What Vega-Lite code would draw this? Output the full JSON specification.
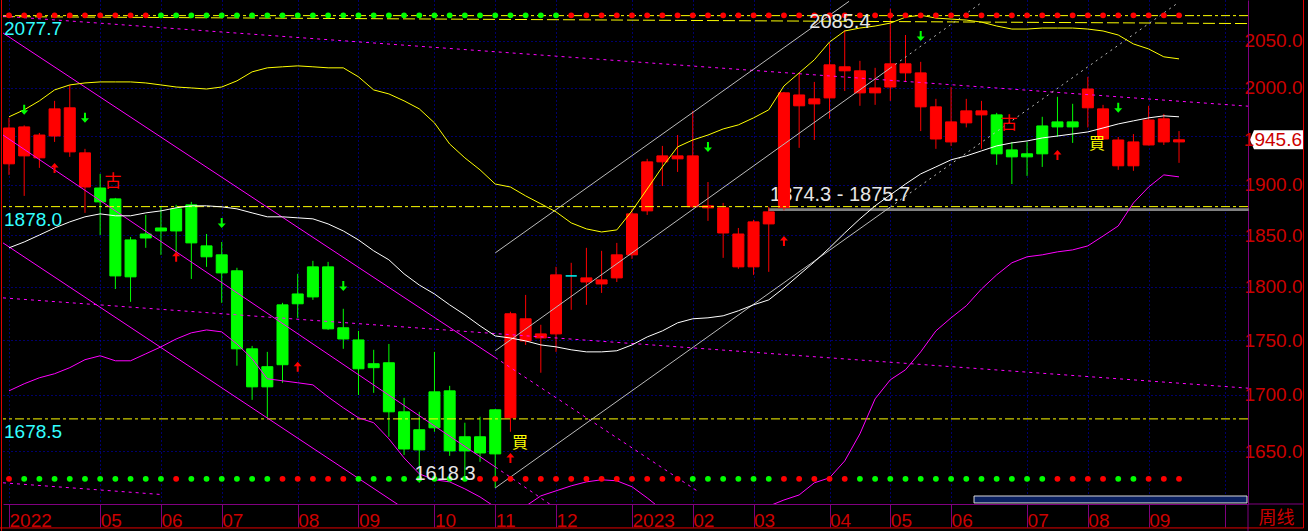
{
"$schema":"https://vega.github.io/schema/vega-lite/v6.json",
"width":1245,"height":504,"autosize":{"type":"none"},
"padding":{"left":3,"top":0,"right":60,"bottom":27},
"background":"#000000",
"config":{"view":{"stroke":null}},
"datasets":{
"candles":[
{"d":"2022-03-25","o":1921.0,"h":1968.3,"l":1909.8,"c":1957.8,"k":"bull","up":1969.4,"mid":1837.5,"lo":1703.6,"t":"bull","b":"bull"},
{"d":"2022-04-01","o":1929.1,"h":1960.5,"l":1888.7,"c":1958.9,"k":"bull","up":1976.7,"mid":1843.2,"lo":1710.0,"t":"bull","b":"bear"},
{"d":"2022-04-08","o":1927.1,"h":1952.6,"l":1916.9,"c":1950.5,"k":"bull","up":1986.1,"mid":1850.0,"lo":1715.4,"t":"bull","b":"bear"},
{"d":"2022-04-15","o":1949.5,"h":1986.1,"l":1943.4,"c":1977.7,"k":"bull","up":1997.6,"mid":1856.9,"lo":1719.1,"t":"bull","b":"bear"},
{"d":"2022-04-22","o":1933.2,"h":2002.9,"l":1928.1,"c":1978.8,"k":"bull","up":2002.9,"mid":1862.9,"lo":1724.6,"t":"bull","b":"bear"},
{"d":"2022-04-29","o":1897.6,"h":1936.3,"l":1871.8,"c":1932.2,"k":"bull","up":2005.0,"mid":1867.9,"lo":1731.9,"t":"bull","b":"bear"},
{"d":"2022-05-06","o":1896.6,"h":1910.8,"l":1850.0,"c":1882.7,"k":"bear","up":2006.1,"mid":1870.8,"lo":1735.5,"t":"bull","b":"bear"},
{"d":"2022-05-13","o":1885.7,"h":1886.7,"l":1797.9,"c":1810.4,"k":"bear","up":2006.1,"mid":1868.9,"lo":1730.9,"t":"bull","b":"bear"},
{"d":"2022-05-20","o":1845.2,"h":1848.1,"l":1785.7,"c":1809.5,"k":"bear","up":2006.1,"mid":1868.9,"lo":1730.9,"t":"bull","b":"bear"},
{"d":"2022-05-27","o":1851.0,"h":1869.8,"l":1837.5,"c":1847.1,"k":"bear","up":2005.0,"mid":1871.8,"lo":1737.3,"t":"bull","b":"bear"},
{"d":"2022-06-03","o":1856.9,"h":1877.8,"l":1830.7,"c":1854.0,"k":"bear","up":2002.9,"mid":1873.8,"lo":1743.7,"t":"bear","b":"bear"},
{"d":"2022-06-10","o":1875.8,"h":1879.8,"l":1830.7,"c":1854.0,"k":"bear","up":2000.7,"mid":1876.8,"lo":1751.0,"t":"bear","b":"bull"},
{"d":"2022-06-17","o":1879.8,"h":1882.7,"l":1807.5,"c":1842.3,"k":"bear","up":1999.7,"mid":1878.8,"lo":1756.7,"t":"bear","b":"bear"},
{"d":"2022-06-24","o":1839.4,"h":1851.0,"l":1819.1,"c":1828.8,"k":"bear","up":1998.6,"mid":1878.8,"lo":1759.4,"t":"bear","b":"bear"},
{"d":"2022-07-01","o":1830.7,"h":1843.2,"l":1784.8,"c":1813.3,"k":"bear","up":2000.7,"mid":1877.8,"lo":1757.6,"t":"bear","b":"bear"},
{"d":"2022-07-08","o":1815.3,"h":1818.2,"l":1726.4,"c":1741.9,"k":"bear","up":2007.2,"mid":1875.8,"lo":1746.4,"t":"bear","b":"bear"},
{"d":"2022-07-15","o":1741.9,"h":1744.6,"l":1695.5,"c":1707.2,"k":"bear","up":2016.8,"mid":1871.8,"lo":1732.8,"t":"bear","b":"bear"},
{"d":"2022-07-22","o":1725.5,"h":1739.1,"l":1679.5,"c":1707.2,"k":"bear","up":2021.1,"mid":1867.9,"lo":1714.5,"t":"bear","b":"bear"},
{"d":"2022-07-29","o":1782.9,"h":1784.8,"l":1710.9,"c":1727.3,"k":"bear","up":2022.2,"mid":1867.9,"lo":1712.7,"t":"bear","b":"bull"},
{"d":"2022-08-05","o":1793.2,"h":1812.4,"l":1770.7,"c":1783.9,"k":"bear","up":2023.2,"mid":1866.9,"lo":1710.9,"t":"bear","b":"bull"},
{"d":"2022-08-12","o":1819.1,"h":1824.9,"l":1787.6,"c":1790.4,"k":"bear","up":2022.2,"mid":1865.9,"lo":1709.0,"t":"bear","b":"bull"},
{"d":"2022-08-19","o":1819.1,"h":1823.9,"l":1759.4,"c":1760.4,"k":"bear","up":2021.1,"mid":1860.9,"lo":1698.1,"t":"bear","b":"bull"},
{"d":"2022-08-26","o":1761.4,"h":1779.2,"l":1741.9,"c":1751.0,"k":"bear","up":2021.1,"mid":1854.0,"lo":1688.4,"t":"bear","b":"bull"},
{"d":"2022-09-02","o":1750.1,"h":1758.5,"l":1699.9,"c":1723.6,"k":"bear","up":2011.5,"mid":1845.2,"lo":1679.5,"t":"bear","b":"bear"},
{"d":"2022-09-09","o":1728.2,"h":1741.0,"l":1701.8,"c":1724.6,"k":"bear","up":1997.6,"mid":1834.6,"lo":1675.1,"t":"bear","b":"bear"},
{"d":"2022-09-16","o":1729.1,"h":1746.4,"l":1662.7,"c":1684.8,"k":"bear","up":1993.4,"mid":1825.9,"lo":1660.9,"t":"bear","b":"bear"},
{"d":"2022-09-23","o":1684.8,"h":1697.3,"l":1646.8,"c":1652.0,"k":"bear","up":1986.1,"mid":1812.4,"lo":1644.2,"t":"bear","b":"bear"},
{"d":"2022-09-30","o":1668.9,"h":1684.8,"l":1622.7,"c":1651.2,"k":"bear","up":1977.7,"mid":1801.7,"lo":1630.4,"t":"bear","b":"bear"},
{"d":"2022-10-07","o":1702.7,"h":1739.1,"l":1667.1,"c":1670.6,"k":"bear","up":1963.1,"mid":1793.2,"lo":1625.3,"t":"bear","b":"bear"},
{"d":"2022-10-14","o":1703.6,"h":1708.1,"l":1646.0,"c":1650.3,"k":"bear","up":1941.3,"mid":1782.9,"lo":1623.5,"t":"bear","b":"bear"},
{"d":"2022-10-21","o":1662.7,"h":1675.1,"l":1625.3,"c":1650.3,"k":"bear","up":1927.1,"mid":1773.5,"lo":1617.5,"t":"bear","b":"bear"},
{"d":"2022-10-28","o":1662.7,"h":1680.4,"l":1640.8,"c":1648.5,"k":"bear","up":1914.9,"mid":1763.2,"lo":1610.6,"t":"bear","b":"bull"},
{"d":"2022-11-04","o":1686.6,"h":1687.4,"l":1618.3,"c":1647.7,"k":"bear","up":1900.6,"mid":1753.8,"lo":1602.0,"t":"bear","b":"bull"},
{"d":"2022-11-11","o":1679.5,"h":1776.4,"l":1667.1,"c":1774.5,"k":"bull","up":1897.6,"mid":1751.9,"lo":1598.6,"t":"bear","b":"bull"},
{"d":"2022-11-18","o":1749.2,"h":1792.3,"l":1745.5,"c":1769.8,"k":"bull","up":1888.7,"mid":1749.2,"lo":1602.8,"t":"bear","b":"bull"},
{"d":"2022-11-25","o":1752.0,"h":1764.2,"l":1720.0,"c":1755.7,"k":"bull","up":1880.8,"mid":1745.5,"lo":1611.5,"t":"bear","b":"bull"},
{"d":"2022-12-02","o":1755.7,"h":1819.1,"l":1739.1,"c":1811.4,"k":"bull","up":1872.8,"mid":1743.7,"lo":1615.8,"t":"bear","b":"bull"},
{"d":"2022-12-09","o":1810.4,"h":1823.0,"l":1778.2,"c":1810.4,"k":"bull","up":1861.9,"mid":1741.0,"lo":1620.1,"t":"bull","b":"bull"},
{"d":"2022-12-16","o":1804.6,"h":1837.5,"l":1782.9,"c":1808.5,"k":"bull","up":1856.0,"mid":1739.1,"lo":1623.5,"t":"bull","b":"bull"},
{"d":"2022-12-23","o":1802.7,"h":1834.6,"l":1794.2,"c":1806.6,"k":"bull","up":1853.0,"mid":1739.1,"lo":1625.3,"t":"bull","b":"bull"},
{"d":"2022-12-30","o":1808.5,"h":1842.3,"l":1804.6,"c":1830.7,"k":"bull","up":1855.0,"mid":1740.1,"lo":1624.4,"t":"bull","b":"bull"},
{"d":"2023-01-06","o":1830.7,"h":1875.8,"l":1826.8,"c":1870.8,"k":"bull","up":1873.8,"mid":1745.5,"lo":1619.3,"t":"bull","b":"bull"},
{"d":"2023-01-13","o":1873.8,"h":1926.1,"l":1869.8,"c":1923.0,"k":"bull","up":1895.6,"mid":1752.9,"lo":1609.8,"t":"bull","b":"bull"},
{"d":"2023-01-20","o":1923.0,"h":1939.3,"l":1898.6,"c":1929.1,"k":"bull","up":1917.9,"mid":1758.5,"lo":1599.5,"t":"bull","b":"bull"},
{"d":"2023-01-27","o":1926.1,"h":1950.5,"l":1912.8,"c":1929.1,"k":"bull","up":1938.3,"mid":1766.0,"lo":1590.8,"t":"bull","b":"bull"},
{"d":"2023-02-03","o":1877.8,"h":1975.6,"l":1876.9,"c":1929.1,"k":"bull","up":1945.4,"mid":1769.8,"lo":1585.6,"t":"bull","b":"bear"},
{"d":"2023-02-10","o":1876.8,"h":1902.6,"l":1863.9,"c":1878.8,"k":"bull","up":1950.5,"mid":1770.7,"lo":1583.9,"t":"bull","b":"bear"},
{"d":"2023-02-17","o":1852.0,"h":1881.7,"l":1827.8,"c":1876.8,"k":"bull","up":1956.8,"mid":1772.6,"lo":1584.7,"t":"bull","b":"bear"},
{"d":"2023-02-24","o":1819.1,"h":1856.9,"l":1817.2,"c":1851.0,"k":"bull","up":1961.0,"mid":1777.3,"lo":1589.1,"t":"bull","b":"bear"},
{"d":"2023-03-03","o":1819.1,"h":1864.9,"l":1811.4,"c":1862.9,"k":"bull","up":1968.3,"mid":1782.9,"lo":1596.0,"t":"bull","b":"bear"},
{"d":"2023-03-10","o":1860.9,"h":1877.8,"l":1814.3,"c":1872.8,"k":"bull","up":1976.7,"mid":1787.6,"lo":1602.8,"t":"bull","b":"bear"},
{"d":"2023-03-17","o":1877.0,"h":1995.5,"l":1874.3,"c":1994.5,"k":"bull","up":2001.8,"mid":1798.9,"lo":1608.0,"t":"bull","b":"bull"},
{"d":"2023-03-24","o":1980.9,"h":2015.7,"l":1937.3,"c":1992.3,"k":"bull","up":2015.7,"mid":1811.4,"lo":1612.3,"t":"bull","b":"bull"},
{"d":"2023-03-31","o":1982.9,"h":2006.1,"l":1945.4,"c":1988.2,"k":"bull","up":2029.7,"mid":1823.9,"lo":1622.7,"t":"bull","b":"bull"},
{"d":"2023-04-07","o":1989.2,"h":2047.9,"l":1967.3,"c":2024.3,"k":"bull","up":2048.9,"mid":1837.5,"lo":1627.0,"t":"bull","b":"bull"},
{"d":"2023-04-14","o":2017.9,"h":2061.9,"l":1996.5,"c":2022.2,"k":"bull","up":2060.9,"mid":1852.0,"lo":1641.6,"t":"bull","b":"bull"},
{"d":"2023-04-21","o":1994.5,"h":2028.6,"l":1980.9,"c":2017.9,"k":"bull","up":2064.1,"mid":1865.9,"lo":1665.3,"t":"bull","b":"bear"},
{"d":"2023-04-28","o":1994.5,"h":2021.1,"l":1981.9,"c":1999.7,"k":"bull","up":2066.3,"mid":1878.8,"lo":1696.4,"t":"bull","b":"bear"},
{"d":"2023-05-05","o":2000.7,"h":2085.4,"l":1986.1,"c":2025.4,"k":"bull","up":2069.5,"mid":1889.7,"lo":1713.6,"t":"bull","b":"bear"},
{"d":"2023-05-12","o":2015.7,"h":2056.5,"l":2006.1,"c":2025.4,"k":"bull","up":2076.0,"mid":1900.6,"lo":1722.7,"t":"bull","b":"bear"},
{"d":"2023-05-19","o":1979.8,"h":2027.5,"l":1954.6,"c":2015.7,"k":"bull","up":2078.2,"mid":1910.8,"lo":1739.1,"t":"bull","b":"bear"},
{"d":"2023-05-26","o":1946.4,"h":1988.2,"l":1936.3,"c":1979.8,"k":"bull","up":2075.0,"mid":1917.9,"lo":1758.5,"t":"bull","b":"bear"},
{"d":"2023-06-02","o":1943.4,"h":2000.7,"l":1939.3,"c":1964.1,"k":"bull","up":2073.9,"mid":1925.1,"lo":1770.7,"t":"bull","b":"bear"},
{"d":"2023-06-09","o":1963.1,"h":1988.2,"l":1958.4,"c":1975.6,"k":"bull","up":2072.8,"mid":1929.1,"lo":1782.0,"t":"bull","b":"bear"},
{"d":"2023-06-16","o":1971.4,"h":1986.1,"l":1936.3,"c":1975.6,"k":"bull","up":2070.6,"mid":1934.2,"lo":1797.9,"t":"bull","b":"bear"},
{"d":"2023-06-23","o":1971.4,"h":1973.5,"l":1920.0,"c":1931.2,"k":"bear","up":2066.3,"mid":1939.3,"lo":1811.4,"t":"bull","b":"bear"},
{"d":"2023-06-30","o":1935.2,"h":1943.4,"l":1900.6,"c":1928.1,"k":"bear","up":2063.0,"mid":1942.4,"lo":1823.0,"t":"bull","b":"bear"},
{"d":"2023-07-07","o":1931.2,"h":1943.4,"l":1908.8,"c":1928.1,"k":"bear","up":2063.0,"mid":1944.4,"lo":1828.8,"t":"bull","b":"bear"},
{"d":"2023-07-14","o":1959.9,"h":1969.4,"l":1917.9,"c":1931.2,"k":"bear","up":2064.1,"mid":1947.5,"lo":1830.7,"t":"bull","b":"bear"},
{"d":"2023-07-21","o":1964.1,"h":1990.3,"l":1948.5,"c":1958.9,"k":"bear","up":2064.1,"mid":1949.5,"lo":1833.6,"t":"bull","b":"bull"},
{"d":"2023-07-28","o":1964.1,"h":1983.0,"l":1942.4,"c":1958.9,"k":"bear","up":2064.1,"mid":1951.6,"lo":1835.5,"t":"bull","b":"bull"},
{"d":"2023-08-04","o":1978.8,"h":2011.5,"l":1958.4,"c":1998.6,"k":"bull","up":2063.0,"mid":1953.7,"lo":1839.4,"t":"bull","b":"bull"},
{"d":"2023-08-11","o":1946.4,"h":1981.9,"l":1945.8,"c":1977.7,"k":"bull","up":2060.9,"mid":1957.8,"lo":1849.0,"t":"bull","b":"bull"},
{"d":"2023-08-18","o":1919.0,"h":1948.5,"l":1914.9,"c":1945.4,"k":"bull","up":2056.5,"mid":1962.0,"lo":1858.9,"t":"bull","b":"bear"},
{"d":"2023-08-25","o":1919.0,"h":1951.5,"l":1913.9,"c":1943.4,"k":"bull","up":2046.8,"mid":1965.2,"lo":1881.7,"t":"bull","b":"bear"},
{"d":"2023-09-01","o":1940.3,"h":1980.9,"l":1939.8,"c":1966.1,"k":"bull","up":2041.4,"mid":1968.3,"lo":1897.6,"t":"bull","b":"bull"},
{"d":"2023-09-08","o":1943.4,"h":1972.4,"l":1940.3,"c":1967.3,"k":"bull","up":2032.9,"mid":1970.4,"lo":1909.8,"t":"bull","b":"bull"},
{"d":"2023-09-15","o":1943.4,"h":1954.6,"l":1922.0,"c":1945.6,"k":"bull","up":2030.7,"mid":1969.4,"lo":1907.8,"t":"bull","b":"bull"}
],
"trends":[
{"id":"top_dash","d":"2022-03-22T05:40:00Z","p":2076.6},{"id":"top_dash","d":"2023-10-16T18:40:00Z","p":2069.0},
{"id":"chanA","d":"2022-03-22T05:40:00Z","p":2058.7},{"id":"chanA","d":"2022-11-04","p":1733.9},
{"id":"chanA_proj","d":"2022-11-04","p":1733.9},{"id":"chanA_proj","d":"2023-02-05","p":1615.8},
{"id":"chanB","d":"2022-03-22T05:40:00Z","p":1950.5},{"id":"chanB","d":"2022-11-04","p":1636.4},
{"id":"chanB_proj","d":"2022-11-04","p":1636.4},{"id":"chanB_proj","d":"2022-12-02","p":1600.9},
{"id":"chanC","d":"2022-03-22T05:40:00Z","p":1842.3},{"id":"chanC","d":"2022-09-23","p":1600.7},
{"id":"par1","d":"2022-03-22T05:40:00Z","p":2077.1},{"id":"par1","d":"2023-10-16T18:40:00Z","p":1980.5},
{"id":"par2","d":"2022-03-22T05:40:00Z","p":1789.5},{"id":"par2","d":"2023-10-16T18:40:00Z","p":1706.0},
{"id":"par3","d":"2022-03-22T05:40:00Z","p":1622.7},{"id":"par3","d":"2022-06-03","p":1612.7},
{"id":"rise_low","d":"2022-11-04","p":1618.3},{"id":"rise_low","d":"2023-05-05","p":1877.6},
{"id":"rise_low_proj","d":"2023-05-05","p":1877.6},{"id":"rise_low_proj","d":"2023-09-15","p":2092.6},
{"id":"rise_mid","d":"2022-11-04","p":1740.1},{"id":"rise_mid","d":"2023-05-05","p":2020.9},
{"id":"rise_mid_proj","d":"2023-05-05","p":2020.9},{"id":"rise_mid_proj","d":"2023-06-16","p":2092.0},
{"id":"rise_high","d":"2022-11-04","p":1832.6},{"id":"rise_high","d":"2023-04-16","p":2093.5}
],
"levels":[{"level":2077.7},{"level":1878.0},{"level":1678.5}],
"zones":[{"d":"2023-03-10","d2":"2023-10-16T18:40:00Z","lo":1874.3,"hi":1875.7}],
"labels":[
{"d":"2023-03-10T14:00:00Z","p":1889.2,"txt":"1874.3 - 1875.7","g":"zone"},
{"d":"2023-04-11T19:00:00Z","p":2070.6,"txt":"2085.4","g":"peak"},
{"d":"2022-10-11T21:00:00Z","p":1630.0,"txt":"1618.3","g":"peak"}
],
"arrows":[
{"d":"2022-04-01","p":1976.7,"dir":"down"},{"d":"2022-04-29","p":1968.3,"dir":"down"},{"d":"2022-07-01","p":1861.9,"dir":"down"},{"d":"2022-08-26","p":1800.8,"dir":"down"},{"d":"2023-02-10","p":1938.3,"dir":"down"},{"d":"2023-05-19","p":2055.4,"dir":"down"},{"d":"2023-08-18","p":1978.8,"dir":"down"},
{"d":"2022-04-15","p":1916.9,"dir":"up"},{"d":"2022-06-10","p":1828.8,"dir":"up"},{"d":"2022-08-05","p":1725.5,"dir":"up"},{"d":"2022-11-11","p":1644.2,"dir":"up"},{"d":"2023-03-17","p":1844.2,"dir":"up"},{"d":"2023-07-21","p":1930.1,"dir":"up"}
],
"signals":[
{"d":"2022-11-15T10:00:00Z","p":1657.3,"s":"買"},{"d":"2023-08-08T05:00:00Z","p":1941.3,"s":"買"},
{"d":"2022-05-11T22:00:00Z","p":1902.7,"s":"古"},{"d":"2023-06-28T17:00:00Z","p":1962.0,"s":"古"}
],
"navigator":[{"d":"2023-06-12T13:30:00Z","d2":"2023-10-16T07:40:00Z","p":1611.4,"p2":1605.5}],
"last":[{"d":"2023-10-29T21:36:00Z","p":1945.6}]
},
"layer":[
{"data":{"name":"zones"},"mark":{"type":"rect","fill":"#808080","stroke":"#808080","strokeWidth":1.5},
 "encoding":{
  "x":{"field":"d","type":"temporal","scale":{"type":"utc","domain":[1647927600000,1697481600000],"nice":false,"padding":0},
   "axis":{"orient":"bottom","values":[1648166400000,1651795200000,1654214400000,1656633600000,1659657600000,1662076800000,1665100800000,1667520000000,1669939200000,1672963200000,1675382400000,1677801600000,1680825600000,1683244800000,1685664000000,1688688000000,1691107200000,1693526400000,1696550400000],
    "labelExpr":"utcmonth(datum.value) == 0 || (utcyear(datum.value) == 2022 && utcmonth(datum.value) == 2) ? utcFormat(datum.value, '%Y') : (utcyear(datum.value) == 2023 && utcmonth(datum.value) == 9 ? '' : utcFormat(datum.value, '%m'))",
    "grid":true,"gridColor":"#0000d8","gridDash":[1,3],"gridWidth":1,
    "domain":true,"domainColor":"#800080","domainWidth":1,
    "ticks":true,"tickColor":"#800080","tickSize":23,"tickWidth":1,
    "labelColor":"#cc0000","labelFont":"Liberation Sans","labelFontSize":19,"labelAlign":"left","labelBaseline":"alphabetic","labelPadding":-1,"labelDx":1,"labelFlush":false,"labelOverlap":false,"labelBound":false,
    "title":"周线","titleColor":"#cc0000","titleFont":"Noto Sans CJK SC","titleFontSize":18,"titleFontWeight":"normal","titleX":1273,"titleY":14,"titleAlign":"center","titleBaseline":"middle","titleAngle":0}},
  "x2":{"field":"d2"},
  "y":{"field":"lo","type":"quantitative","scale":{"type":"log","domain":[1604.6,2094.95],"nice":false},
   "axis":{"orient":"right","values":[1650,1700,1750,1800,1850,1900,1950,2000,2050],"labelExpr":"datum.value == 1950 ? '' : format(datum.value, '.1f')","title":null,
    "grid":true,"gridColor":"#0000d8","gridDash":[1,3],"gridWidth":1,"domain":true,"domainColor":"#800080","ticks":false,"tickSize":0,
    "labelColor":"#cc0000","labelFont":"Liberation Sans","labelFontSize":19,"labelAlign":"right","labelBaseline":"middle","labelPadding":54,"labelFlush":false,"labelOverlap":false,"labelBound":false}},
  "y2":{"field":"hi"}}},
{"data":{"name":"labels"},"transform":[{"filter":"datum.g == 'zone'"}],
 "mark":{"type":"text","align":"left","baseline":"middle","font":"Liberation Sans","fontSize":20,"fill":"#e6e6e6"},
 "encoding":{"x":{"field":"d","type":"temporal","scale":{"type":"utc","domain":[1647927600000,1697481600000],"nice":false,"padding":0}},"y":{"field":"p","type":"quantitative","scale":{"type":"log","domain":[1604.6,2094.95],"nice":false}},"text":{"field":"txt"}}},
{"data":{"name":"candles"},"mark":{"type":"rule","strokeWidth":1},
 "encoding":{"x":{"field":"d","type":"temporal","scale":{"type":"utc","domain":[1647927600000,1697481600000],"nice":false,"padding":0}},
  "y":{"field":"l","type":"quantitative","scale":{"type":"log","domain":[1604.6,2094.95],"nice":false}},"y2":{"field":"h"},
  "color":{"field":"k","type":"nominal","scale":{"domain":["bull","bear"],"range":["#ff0000","#00ff00"]},"legend":null}}},
{"data":{"name":"candles"},"mark":{"type":"bar","width":11,"strokeWidth":1},
 "encoding":{"x":{"field":"d","type":"temporal","scale":{"type":"utc","domain":[1647927600000,1697481600000],"nice":false,"padding":0}},
  "y":{"field":"o","type":"quantitative","scale":{"type":"log","domain":[1604.6,2094.95],"nice":false}},"y2":{"field":"c"},
  "color":{"condition":{"test":"datum.o == datum.c","value":"#00ffff"},"field":"k","type":"nominal","scale":{"domain":["bull","bear"],"range":["#ff0000","#00ff00"]},"legend":null},
  "stroke":{"condition":{"test":"datum.o == datum.c","value":"#00ffff"},"field":"k","type":"nominal","scale":{"domain":["bull","bear"],"range":["#ff0000","#00ff00"]},"legend":null}}},
{"data":{"name":"levels"},"mark":{"type":"rule","color":"#ffff00","strokeWidth":1,"strokeDash":[9,3,3,3]},
 "encoding":{"y":{"field":"level","type":"quantitative","scale":{"type":"log","domain":[1604.6,2094.95],"nice":false}}}},
{"data":{"name":"trends"},"transform":[{"filter":"datum.id == 'top_dash'"}],"mark":{"type":"line","color":"#ffff00","strokeWidth":1,"strokeDash":[12,4],"clip":true},
 "encoding":{"x":{"field":"d","type":"temporal","scale":{"type":"utc","domain":[1647927600000,1697481600000],"nice":false,"padding":0}},"y":{"field":"p","type":"quantitative","scale":{"type":"log","domain":[1604.6,2094.95],"nice":false}},"detail":{"field":"id"}}},
{"data":{"name":"trends"},"transform":[{"filter":"indexof(['chanA','chanB','chanC'], datum.id) >= 0"}],"mark":{"type":"line","color":"#ff00ff","strokeWidth":1,"clip":true},
 "encoding":{"x":{"field":"d","type":"temporal","scale":{"type":"utc","domain":[1647927600000,1697481600000],"nice":false,"padding":0}},"y":{"field":"p","type":"quantitative","scale":{"type":"log","domain":[1604.6,2094.95],"nice":false}},"detail":{"field":"id"}}},
{"data":{"name":"trends"},"transform":[{"filter":"indexof(['chanA_proj','chanB_proj','par1','par2','par3'], datum.id) >= 0"}],"mark":{"type":"line","color":"#ff00ff","strokeWidth":1,"strokeDash":[3,4],"clip":true},
 "encoding":{"x":{"field":"d","type":"temporal","scale":{"type":"utc","domain":[1647927600000,1697481600000],"nice":false,"padding":0}},"y":{"field":"p","type":"quantitative","scale":{"type":"log","domain":[1604.6,2094.95],"nice":false}},"detail":{"field":"id"}}},
{"data":{"name":"trends"},"transform":[{"filter":"indexof(['rise_low','rise_mid','rise_high'], datum.id) >= 0"}],"mark":{"type":"line","color":"#bbbbbb","strokeWidth":1,"clip":true},
 "encoding":{"x":{"field":"d","type":"temporal","scale":{"type":"utc","domain":[1647927600000,1697481600000],"nice":false,"padding":0}},"y":{"field":"p","type":"quantitative","scale":{"type":"log","domain":[1604.6,2094.95],"nice":false}},"detail":{"field":"id"}}},
{"data":{"name":"trends"},"transform":[{"filter":"indexof(['rise_low_proj','rise_mid_proj'], datum.id) >= 0"}],"mark":{"type":"line","color":"#bbbbbb","strokeWidth":1,"strokeDash":[2,4],"clip":true},
 "encoding":{"x":{"field":"d","type":"temporal","scale":{"type":"utc","domain":[1647927600000,1697481600000],"nice":false,"padding":0}},"y":{"field":"p","type":"quantitative","scale":{"type":"log","domain":[1604.6,2094.95],"nice":false}},"detail":{"field":"id"}}},
{"data":{"name":"candles"},"mark":{"type":"line","color":"#ffff00","strokeWidth":1,"clip":true},
 "encoding":{"x":{"field":"d","type":"temporal","scale":{"type":"utc","domain":[1647927600000,1697481600000],"nice":false,"padding":0}},"y":{"field":"up","type":"quantitative","scale":{"type":"log","domain":[1604.6,2094.95],"nice":false}}}},
{"data":{"name":"candles"},"mark":{"type":"line","color":"#ffffff","strokeWidth":1,"clip":true},
 "encoding":{"x":{"field":"d","type":"temporal","scale":{"type":"utc","domain":[1647927600000,1697481600000],"nice":false,"padding":0}},"y":{"field":"mid","type":"quantitative","scale":{"type":"log","domain":[1604.6,2094.95],"nice":false}}}},
{"data":{"name":"candles"},"mark":{"type":"line","color":"#ff00ff","strokeWidth":1,"clip":true},
 "encoding":{"x":{"field":"d","type":"temporal","scale":{"type":"utc","domain":[1647927600000,1697481600000],"nice":false,"padding":0}},"y":{"field":"lo","type":"quantitative","scale":{"type":"log","domain":[1604.6,2094.95],"nice":false}}}},
{"data":{"name":"candles"},"mark":{"type":"circle","size":34,"opacity":1},
 "encoding":{"x":{"field":"d","type":"temporal","scale":{"type":"utc","domain":[1647927600000,1697481600000],"nice":false,"padding":0}},"y":{"datum":2078.0,"type":"quantitative","scale":{"type":"log","domain":[1604.6,2094.95],"nice":false}},
  "color":{"field":"t","type":"nominal","scale":{"domain":["bull","bear"],"range":["#ff0000","#00ff00"]},"legend":null}}},
{"data":{"name":"candles"},"mark":{"type":"circle","size":34,"opacity":1},
 "encoding":{"x":{"field":"d","type":"temporal","scale":{"type":"utc","domain":[1647927600000,1697481600000],"nice":false,"padding":0}},"y":{"datum":1626.1,"type":"quantitative","scale":{"type":"log","domain":[1604.6,2094.95],"nice":false}},
  "color":{"field":"b","type":"nominal","scale":{"domain":["bull","bear"],"range":["#ff0000","#00ff00"]},"legend":null}}},
{"data":{"name":"arrows"},"transform":[{"filter":"datum.dir == 'down'"}],
 "mark":{"type":"point","shape":"M-0.2,-1L0.2,-1L0.2,0.1L0.8,0.1L0,1L-0.8,0.1L-0.2,0.1Z","size":100,"filled":true,"fill":"#00ff00","strokeWidth":0,"opacity":1},
 "encoding":{"x":{"field":"d","type":"temporal","scale":{"type":"utc","domain":[1647927600000,1697481600000],"nice":false,"padding":0}},"y":{"field":"p","type":"quantitative","scale":{"type":"log","domain":[1604.6,2094.95],"nice":false}}}},
{"data":{"name":"arrows"},"transform":[{"filter":"datum.dir == 'up'"}],
 "mark":{"type":"point","shape":"M-0.2,1L0.2,1L0.2,-0.1L0.8,-0.1L0,-1L-0.8,-0.1L-0.2,-0.1Z","size":100,"filled":true,"fill":"#ff0000","strokeWidth":0,"opacity":1},
 "encoding":{"x":{"field":"d","type":"temporal","scale":{"type":"utc","domain":[1647927600000,1697481600000],"nice":false,"padding":0}},"y":{"field":"p","type":"quantitative","scale":{"type":"log","domain":[1604.6,2094.95],"nice":false}}}},
{"data":{"name":"signals"},"transform":[{"filter":"datum.s == '買'"}],
 "mark":{"type":"text","align":"center","baseline":"middle","font":"Noto Sans CJK TC","fontSize":16,"fill":"#ffff00"},
 "encoding":{"x":{"field":"d","type":"temporal","scale":{"type":"utc","domain":[1647927600000,1697481600000],"nice":false,"padding":0}},"y":{"field":"p","type":"quantitative","scale":{"type":"log","domain":[1604.6,2094.95],"nice":false}},"text":{"field":"s"}}},
{"data":{"name":"signals"},"transform":[{"filter":"datum.s == '古'"}],
 "mark":{"type":"text","align":"center","baseline":"middle","font":"Noto Sans CJK TC","fontSize":17,"fill":"#ff0000"},
 "encoding":{"x":{"field":"d","type":"temporal","scale":{"type":"utc","domain":[1647927600000,1697481600000],"nice":false,"padding":0}},"y":{"field":"p","type":"quantitative","scale":{"type":"log","domain":[1604.6,2094.95],"nice":false}},"text":{"field":"s"}}},
{"data":{"name":"labels"},"transform":[{"filter":"datum.g == 'peak'"}],
 "mark":{"type":"text","align":"center","baseline":"middle","font":"Liberation Sans","fontSize":20,"fill":"#e6e6e6"},
 "encoding":{"x":{"field":"d","type":"temporal","scale":{"type":"utc","domain":[1647927600000,1697481600000],"nice":false,"padding":0}},"y":{"field":"p","type":"quantitative","scale":{"type":"log","domain":[1604.6,2094.95],"nice":false}},"text":{"field":"txt"}}},
{"data":{"name":"levels"},"mark":{"type":"text","align":"left","baseline":"middle","dx":1,"dy":13,"font":"Liberation Sans","fontSize":19,"fill":"#33ffff"},
 "encoding":{"x":{"datum":1647927600000,"type":"temporal","scale":{"type":"utc","domain":[1647927600000,1697481600000],"nice":false,"padding":0}},"y":{"field":"level","type":"quantitative","scale":{"type":"log","domain":[1604.6,2094.95],"nice":false}},"text":{"field":"level","type":"quantitative","format":".1f"}}},
{"data":{"name":"navigator"},"mark":{"type":"rect","fill":"#0a1f5f","stroke":"#d8d8d8","strokeWidth":1},
 "encoding":{"x":{"field":"d","type":"temporal","scale":{"type":"utc","domain":[1647927600000,1697481600000],"nice":false,"padding":0}},"x2":{"field":"d2"},"y":{"field":"p","type":"quantitative","scale":{"type":"log","domain":[1604.6,2094.95],"nice":false}},"y2":{"field":"p2"}}},
{"data":{"values":[{}]},"mark":{"type":"rule","color":"#e00000","strokeWidth":1},
 "encoding":{"x":{"datum":1647867900000,"type":"temporal","scale":{"type":"utc","domain":[1647927600000,1697481600000],"nice":false,"padding":0}},"y":{"datum":2094.95,"type":"quantitative","scale":{"type":"log","domain":[1604.6,2094.95],"nice":false}},"y2":{"datum":1581.9}}},
{"data":{"values":[{}]},"mark":{"type":"rule","color":"#e00000","strokeWidth":1},
 "encoding":{"x":{"datum":1699691040000,"type":"temporal","scale":{"type":"utc","domain":[1647927600000,1697481600000],"nice":false,"padding":0}},"y":{"datum":2094.95,"type":"quantitative","scale":{"type":"log","domain":[1604.6,2094.95],"nice":false}},"y2":{"datum":1584.4}}},
{"data":{"values":[{}]},"mark":{"type":"rule","color":"#e00000","strokeWidth":1},
 "encoding":{"x":{"datum":1647808200000,"type":"temporal","scale":{"type":"utc","domain":[1647927600000,1697481600000],"nice":false,"padding":0}},"x2":{"datum":1699691040000},"y":{"datum":1584.4,"type":"quantitative","scale":{"type":"log","domain":[1604.6,2094.95],"nice":false}}}},
{"data":{"values":[{}]},"mark":{"type":"rule","color":"#800080","strokeWidth":1},
 "encoding":{"x":{"datum":1697481600000,"type":"temporal","scale":{"type":"utc","domain":[1647927600000,1697481600000],"nice":false,"padding":0}},"y":{"datum":1604.6,"type":"quantitative","scale":{"type":"log","domain":[1604.6,2094.95],"nice":false}},"y2":{"datum":1581.9}}},
{"data":{"values":[{}]},"mark":{"type":"rule","color":"#800080","strokeWidth":1},
 "encoding":{"x":{"datum":1697481600000,"type":"temporal","scale":{"type":"utc","domain":[1647927600000,1697481600000],"nice":false,"padding":0}},"x2":{"datum":1699691040000},"y":{"datum":1604.6,"type":"quantitative","scale":{"type":"log","domain":[1604.6,2094.95],"nice":false}}}},
{"data":{"name":"last"},"mark":{"type":"point","shape":"M-1,0L-0.85,-0.36L1,-0.36L1,0.36L-0.85,0.36Z","size":2809,"filled":true,"fill":"#ffffff","strokeWidth":0,"opacity":1},
 "encoding":{"x":{"field":"d","type":"temporal","scale":{"type":"utc","domain":[1647927600000,1697481600000],"nice":false,"padding":0}},"y":{"field":"p","type":"quantitative","scale":{"type":"log","domain":[1604.6,2094.95],"nice":false}}}},
{"data":{"name":"last"},"mark":{"type":"text","align":"right","baseline":"middle","dx":25.5,"font":"Liberation Sans","fontSize":19,"fill":"#cc0000"},
 "encoding":{"x":{"field":"d","type":"temporal","scale":{"type":"utc","domain":[1647927600000,1697481600000],"nice":false,"padding":0}},"y":{"field":"p","type":"quantitative","scale":{"type":"log","domain":[1604.6,2094.95],"nice":false}},"text":{"field":"p","type":"quantitative","format":".1f"}}}
]
}
